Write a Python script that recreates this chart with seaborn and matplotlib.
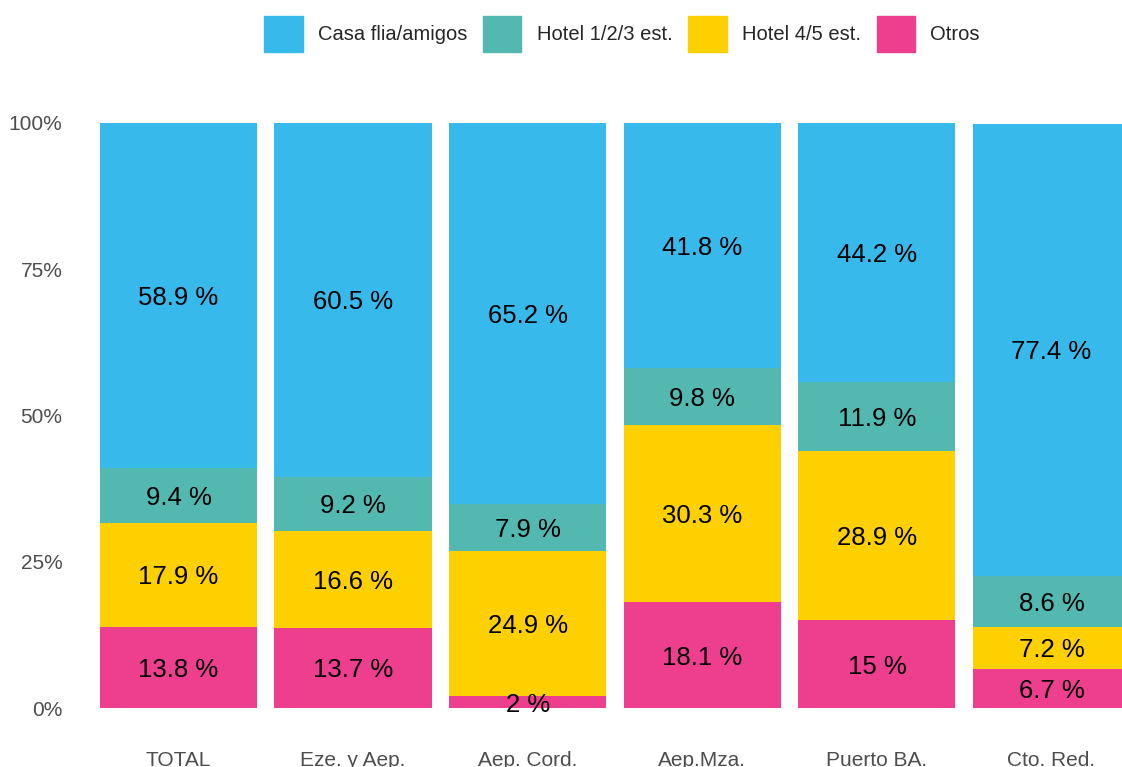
import pandas as pd
import seaborn as sns
import matplotlib.pyplot as plt

# Alojamiento por punto de entrada (%)
origenes = ['TOTAL', 'Eze. y Aep.', 'Aep. Cord.', 'Aep.Mza.', 'Puerto BA.', 'Cto. Red.']
otros = [13.8, 13.7, 2, 18.1, 15, 6.7]
hotel_45 = [17.9, 16.6, 24.9, 30.3, 28.9, 7.2]
hotel_123 = [9.4, 9.2, 7.9, 9.8, 11.9, 8.6]
casa = [58.9, 60.5, 65.2, 41.8, 44.2, 77.4]

categorias = ['Casa flia/amigos', 'Hotel 1/2/3 est.', 'Hotel 4/5 est.', 'Otros']
colores = {'Casa flia/amigos': '#38B9EC', 'Hotel 1/2/3 est.': '#52B8B0',
           'Hotel 4/5 est.': '#FFD000', 'Otros': '#EE3E8E'}

sns.set_theme(style='white')
plt.rcParams['font.family'] = ['Liberation Sans', 'DejaVu Sans']

# orden de apilado: de abajo hacia arriba
apilado = [('Otros', otros), ('Hotel 4/5 est.', hotel_45),
           ('Hotel 1/2/3 est.', hotel_123), ('Casa flia/amigos', casa)]
filas = []
for i, o in enumerate(origenes):
    base = 0
    for cat, vals in apilado:
        filas.append({'origen': o, 'cat': cat, 'valor': vals[i],
                      'base': base, 'tope': base + vals[i]})
        base += vals[i]
df = pd.DataFrame(filas)

fig = plt.figure(figsize=(11.22, 7.67), dpi=100)
ax = fig.add_axes([73.7 / 1122, 29.75 / 767, (1122 - 73.7) / 1122, 643.5 / 767])

# se dibujan los acumulados de arriba hacia abajo para que queden superpuestos
for cat in categorias:
    d = df[df['cat'] == cat]
    sns.barplot(data=d, x='origen', y='tope', order=origenes, color=colores[cat],
                saturation=1, width=0.9, errorbar=None, linewidth=0, ax=ax)

for _, r in df.iterrows():
    x = origenes.index(r['origen'])
    ax.text(x, (r['base'] + r['tope']) / 2, f"{r['valor']:g} %", ha='center',
            va='center_baseline', fontsize=18.5, color='black')

ax.set_xlim(-0.6, (1122 - 178.5) / 174.6)
ax.set_ylim(-5, 105)
ax.set_yticks([0, 25, 50, 75, 100])
ax.set_yticklabels(['0%', '25%', '50%', '75%', '100%'])
ax.tick_params(axis='both', length=0, labelsize=15, colors='#4D4D4D')
ax.tick_params(axis='y', pad=8)
ax.tick_params(axis='x', pad=10)
ax.set_xlabel('')
ax.set_ylabel('')
sns.despine(left=True, bottom=True)

handles = [plt.Rectangle((0, 0), 1, 1, color=colores[c]) for c in categorias]
fig.legend(handles, categorias, loc='center', bbox_to_anchor=(622 / 1122, 1 - 34 / 767),
           ncol=4, frameon=False, fontsize=14.5, handlelength=1.9, handleheight=2.4,
           handletextpad=0.75, columnspacing=0.8)

plt.savefig('out.png', dpi=100)
